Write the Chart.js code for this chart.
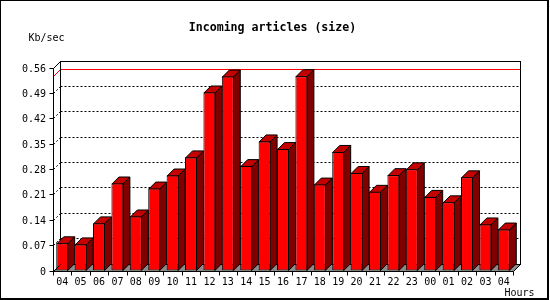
<!DOCTYPE html>
<html>
<head>
<meta charset="utf-8">
<script src="https://cdn.jsdelivr.net/npm/chart.js@4.4.1/dist/chart.umd.min.js"></script>
<style>
html,body{margin:0;padding:0;background:#fff;}
canvas{display:block;}
</style>
</head>
<body>
<canvas id="c" width="550" height="300"></canvas>
<script>
// ---- data ----
const hours = ['04','05','06','07','08','09','10','11','12','13','14','15','16','17','18','19','20','21','22','23','00','01','02','03','04'];
const kbPerSec = [0.075,0.072,0.130,0.240,0.149,0.226,0.262,0.312,0.491,0.535,0.288,0.356,0.335,0.536,0.237,0.327,0.269,0.217,0.263,0.279,0.203,0.188,0.257,0.127,0.113];
const yTickValues = [0,0.07,0.14,0.21,0.28,0.35,0.42,0.49,0.56];
const yTickLabels = ['0','0.07','0.14','0.21','0.28','0.35','0.42','0.49','0.56'];
const chartTitle = 'Incoming articles (size)';
const yAxisTitle = 'Kb/sec';
const xAxisTitle = 'Hours';

const DEPTH = 7;
const MONO = '"DejaVu Sans Mono", "Liberation Mono", monospace';

const threeD = {
  id: 'threeD',
  beforeDatasetsDraw(chart) {
    const ctx = chart.ctx, xs = chart.scales.x, ys = chart.scales.y;
    const L = Math.round(xs.left) + 0.5, R = Math.round(xs.right) + 0.5;
    const yMax = yTickValues[yTickValues.length - 1];
    const T = Math.round(ys.getPixelForValue(yMax)) + 0.5;
    const B = Math.round(ys.getPixelForValue(0)) + 0.5;
    const D = DEPTH;
    ctx.save();
    // floor
    ctx.fillStyle = '#8c8c8c';
    ctx.beginPath();
    ctx.moveTo(L, B); ctx.lineTo(L + D, B - D); ctx.lineTo(R + D, B - D); ctx.lineTo(R, B);
    ctx.closePath(); ctx.fill();
    // dotted grid lines on back wall + diagonals on the left wall
    ctx.strokeStyle = '#000'; ctx.lineWidth = 1;
    ctx.setLineDash([2, 2]);
    yTickValues.forEach(v => {
      if (v === 0 || v === yMax) return;
      const py = Math.round(ys.getPixelForValue(v)) + 0.5;
      ctx.beginPath(); ctx.moveTo(L + D, py - D); ctx.lineTo(R + D, py - D); ctx.stroke();
      ctx.beginPath(); ctx.moveTo(L, py); ctx.lineTo(L + D, py - D); ctx.stroke();
    });
    ctx.setLineDash([]);
    // red maximum line
    const m = Math.max(...kbPerSec);
    const pm = Math.round(ys.getPixelForValue(m)) + 0.5;
    ctx.strokeStyle = '#ff0000';
    ctx.beginPath(); ctx.moveTo(L, pm); ctx.lineTo(L + D, pm - D); ctx.lineTo(R + D, pm - D); ctx.stroke();
    // back wall frame
    ctx.strokeStyle = '#000';
    ctx.strokeRect(L + D, T - D, R - L, B - T);
    // side and top faces of bars
    const meta = chart.getDatasetMeta(0);
    meta.data.forEach(bar => {
      const p = bar.getProps(['x', 'y', 'width', 'base'], true);
      const x0 = p.x - p.width / 2, x1 = p.x + p.width / 2 - 0.5;
      const top = p.y + 0.5, base = p.base;
      ctx.fillStyle = '#800000';
      ctx.beginPath();
      ctx.moveTo(x1, top); ctx.lineTo(x1 + D, top - D); ctx.lineTo(x1 + D, base - D); ctx.lineTo(x1, base);
      ctx.closePath(); ctx.fill(); ctx.stroke();
      ctx.fillStyle = '#c40000';
      ctx.beginPath();
      ctx.moveTo(x0 + 0.5, top); ctx.lineTo(x0 + 0.5 + D, top - D); ctx.lineTo(x1 + D, top - D); ctx.lineTo(x1, top);
      ctx.closePath(); ctx.fill(); ctx.stroke();
    });
    ctx.restore();
  },
  afterDatasetsDraw(chart) {
    const ctx = chart.ctx, xs = chart.scales.x, ys = chart.scales.y;
    const L = Math.round(xs.left) + 0.5, R = Math.round(xs.right) + 0.5;
    const yMax = yTickValues[yTickValues.length - 1];
    const T = Math.round(ys.getPixelForValue(yMax)) + 0.5;
    const B = Math.round(ys.getPixelForValue(0)) + 0.5;
    const D = DEPTH;
    ctx.save();
    ctx.strokeStyle = '#000'; ctx.lineWidth = 1;
    // front axes
    ctx.beginPath();
    ctx.moveTo(L + D, T - D); ctx.lineTo(L, T); ctx.lineTo(L, B + 3);
    ctx.moveTo(L - 1, B); ctx.lineTo(R, B); ctx.lineTo(R + D, B - D);
    ctx.moveTo(L, B); ctx.lineTo(L + D, B - D);
    ctx.stroke();
    // y ticks and labels
    ctx.fillStyle = '#000';
    ctx.font = '10px ' + MONO;
    ctx.textAlign = 'right'; ctx.textBaseline = 'alphabetic';
    yTickValues.forEach((v, i) => {
      const py = Math.round(ys.getPixelForValue(v)) + 0.5;
      ctx.beginPath(); ctx.moveTo(L - 4, py); ctx.lineTo(L, py); ctx.stroke();
      ctx.fillText(yTickLabels[i], L - 7.5, py + 3.5);
    });
    // x ticks and labels
    ctx.textAlign = 'center';
    const n = hours.length;
    const step = (xs.right - xs.left) / n;
    for (let i = 0; i <= n; i++) {
      const px = Math.round(xs.left + i * step) + 0.5;
      ctx.beginPath(); ctx.moveTo(px, B); ctx.lineTo(px, B + 4); ctx.stroke();
    }
    hours.forEach((h, i) => {
      ctx.fillText(h, xs.getPixelForValue(i), B + 13);
    });
    // axis titles
    ctx.textAlign = 'left';
    ctx.fillText(yAxisTitle, 28.5, 40.5);
    ctx.fillText(xAxisTitle, 504.5, 296);
    // chart title
    ctx.font = 'bold 11.6px ' + MONO;
    ctx.textAlign = 'center';
    ctx.fillText(chartTitle, 272.5, 30.5);
    // outer border
    ctx.fillRect(0, 0, 549, 1);
    ctx.fillRect(0, 0, 1, 300);
    ctx.fillRect(547, 0, 2, 300);
    ctx.fillRect(0, 298, 549, 2);
    ctx.restore();
  }
};

new Chart(document.getElementById('c'), {
  type: 'bar',
  data: {
    labels: hours,
    datasets: [{
      data: kbPerSec,
      backgroundColor: '#ff0000',
      borderColor: '#000000',
      borderWidth: 1,
      borderSkipped: false,
      inflateAmount: 0,
      categoryPercentage: 1,
      barPercentage: 0.65
    }]
  },
  options: {
    responsive: false,
    animation: false,
    devicePixelRatio: 1,
    layout: { padding: { left: 53, right: 37, top: 67.5, bottom: 29.5 } },
    plugins: { legend: { display: false }, tooltip: { enabled: false }, title: { display: false } },
    scales: {
      x: { type: 'category', display: false, offset: true },
      y: { display: false, min: 0, max: 0.56 }
    }
  },
  plugins: [threeD]
});
</script>
</body>
</html>
